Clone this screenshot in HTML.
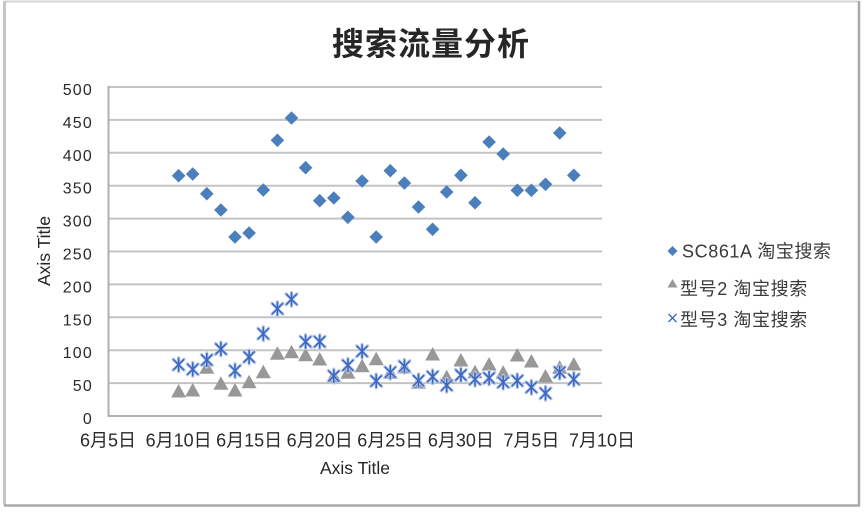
<!DOCTYPE html>
<html><head><meta charset="utf-8"><style>
html,body{margin:0;padding:0;background:#fff;}
svg{display:block;}
text{font-family:"Liberation Sans","Noto Sans CJK SC",sans-serif;}
</style></head><body>
<svg width="866" height="512" viewBox="0 0 866 512" xmlns="http://www.w3.org/2000/svg">
<rect x="0" y="0" width="866" height="512" fill="#fff"/>
<!-- outer border -->
<line x1="4" y1="1.5" x2="859" y2="1.5" stroke="#d4d4d4" stroke-width="2"/>
<line x1="4.5" y1="1" x2="4.5" y2="505" stroke="#c6c6c6" stroke-width="3"/>
<line x1="859" y1="1" x2="859" y2="506" stroke="#a8a8a8" stroke-width="2.5"/>
<line x1="4" y1="505.5" x2="860" y2="505.5" stroke="#a8a8a8" stroke-width="2.5"/>

<!-- title -->
<text x="431" y="55" text-anchor="middle" font-size="32" font-weight="bold" fill="#262626" letter-spacing="1" font-family="'Noto Sans CJK SC',sans-serif">搜索流量分析</text>

<!-- gridlines -->
<g stroke="#c3c3c3" stroke-width="2">
<line x1="108" y1="87" x2="602" y2="87"/>
<line x1="108" y1="119.9" x2="602" y2="119.9"/>
<line x1="108" y1="152.8" x2="602" y2="152.8"/>
<line x1="108" y1="185.7" x2="602" y2="185.7"/>
<line x1="108" y1="218.6" x2="602" y2="218.6"/>
<line x1="108" y1="251.5" x2="602" y2="251.5"/>
<line x1="108" y1="284.4" x2="602" y2="284.4"/>
<line x1="108" y1="317.3" x2="602" y2="317.3"/>
<line x1="108" y1="350.2" x2="602" y2="350.2"/>
<line x1="108" y1="383.1" x2="602" y2="383.1"/>
</g>
<line x1="108" y1="416" x2="602" y2="416" stroke="#b0b0b0" stroke-width="2"/>
<line x1="108.5" y1="86" x2="108.5" y2="417" stroke="#b0b0b0" stroke-width="2"/>

<!-- y tick labels -->
<g font-size="16" fill="#2a2a2a" text-anchor="end" letter-spacing="1.2">
<text x="93" y="95">500</text>
<text x="93" y="127.9">450</text>
<text x="93" y="160.8">400</text>
<text x="93" y="193.7">350</text>
<text x="93" y="226.6">300</text>
<text x="93" y="259.5">250</text>
<text x="93" y="292.4">200</text>
<text x="93" y="325.3">150</text>
<text x="93" y="358.2">100</text>
<text x="93" y="391.1">50</text>
<text x="93" y="424">0</text>
</g>

<!-- x tick labels -->
<g font-size="18" fill="#2a2a2a" text-anchor="middle">
<text x="108" y="446.5">6月5日</text>
<text x="178.6" y="446.5">6月10日</text>
<text x="249.1" y="446.5">6月15日</text>
<text x="319.7" y="446.5">6月20日</text>
<text x="390.3" y="446.5">6月25日</text>
<text x="460.9" y="446.5">6月30日</text>
<text x="531.4" y="446.5">7月5日</text>
<text x="602" y="446.5">7月10日</text>
</g>

<!-- axis titles -->
<text x="355" y="474" text-anchor="middle" font-size="17.5" fill="#262626">Axis Title</text>
<text transform="translate(50,251) rotate(-90)" text-anchor="middle" font-size="17.5" fill="#262626">Axis Title</text>

<defs>
<path id="dm" d="M0,-6.8 L6.8,0 L0,6.8 L-6.8,0 Z" fill="#4a7fbc"/>
<path id="tr" d="M0,-7 L7.5,6.5 L-7.5,6.5 Z" fill="#989898"/>
<g id="st">
<g stroke="#b8c9ea" stroke-width="3.2" stroke-linecap="round">
<line x1="-5.5" y1="-5.5" x2="5.5" y2="5.5"/><line x1="-5.5" y1="5.5" x2="5.5" y2="-5.5"/><line x1="0" y1="-7" x2="0" y2="7"/>
</g>
<g stroke="#3c68c4" stroke-width="1.6">
<line x1="-5.5" y1="-5.5" x2="5.5" y2="5.5"/><line x1="-5.5" y1="5.5" x2="5.5" y2="-5.5"/><line x1="0" y1="-7" x2="0" y2="7"/>
</g>
</g>
</defs>

<!-- SC861A diamonds -->
<g>
<use href="#dm" x="178.6" y="175.7"/>
<use href="#dm" x="192.7" y="174"/>
<use href="#dm" x="206.8" y="193.7"/>
<use href="#dm" x="220.9" y="210"/>
<use href="#dm" x="235.0" y="237"/>
<use href="#dm" x="249.1" y="233"/>
<use href="#dm" x="263.3" y="190"/>
<use href="#dm" x="277.4" y="140.3"/>
<use href="#dm" x="291.5" y="118"/>
<use href="#dm" x="305.6" y="167.7"/>
<use href="#dm" x="319.7" y="200.7"/>
<use href="#dm" x="333.8" y="198"/>
<use href="#dm" x="347.9" y="217.3"/>
<use href="#dm" x="362.1" y="181"/>
<use href="#dm" x="376.2" y="237"/>
<use href="#dm" x="390.3" y="170.7"/>
<use href="#dm" x="404.4" y="183"/>
<use href="#dm" x="418.5" y="207"/>
<use href="#dm" x="432.6" y="229.3"/>
<use href="#dm" x="446.7" y="192"/>
<use href="#dm" x="460.9" y="175.3"/>
<use href="#dm" x="475.0" y="202.7"/>
<use href="#dm" x="489.1" y="142"/>
<use href="#dm" x="503.2" y="154"/>
<use href="#dm" x="517.3" y="190.3"/>
<use href="#dm" x="531.4" y="190.3"/>
<use href="#dm" x="545.5" y="184.3"/>
<use href="#dm" x="559.7" y="133"/>
<use href="#dm" x="573.8" y="175.3"/>
</g>

<!-- 型号2 triangles -->
<g>
<use href="#tr" x="178.6" y="391"/>
<use href="#tr" x="192.7" y="390"/>
<use href="#tr" x="206.8" y="367.3"/>
<use href="#tr" x="220.9" y="383.3"/>
<use href="#tr" x="235.0" y="390"/>
<use href="#tr" x="249.1" y="381.7"/>
<use href="#tr" x="263.3" y="371.7"/>
<use href="#tr" x="277.4" y="353.3"/>
<use href="#tr" x="291.5" y="351.7"/>
<use href="#tr" x="305.6" y="354.7"/>
<use href="#tr" x="319.7" y="359"/>
<use href="#tr" x="333.8" y="375.7"/>
<use href="#tr" x="347.9" y="372.3"/>
<use href="#tr" x="362.1" y="365.7"/>
<use href="#tr" x="376.2" y="358.7"/>
<use href="#tr" x="390.3" y="372.3"/>
<use href="#tr" x="404.4" y="367"/>
<use href="#tr" x="418.5" y="382.3"/>
<use href="#tr" x="432.6" y="354"/>
<use href="#tr" x="446.7" y="376.7"/>
<use href="#tr" x="460.9" y="360"/>
<use href="#tr" x="475.0" y="371.7"/>
<use href="#tr" x="489.1" y="364"/>
<use href="#tr" x="503.2" y="372.3"/>
<use href="#tr" x="517.3" y="355"/>
<use href="#tr" x="531.4" y="361"/>
<use href="#tr" x="545.5" y="376"/>
<use href="#tr" x="559.7" y="367.3"/>
<use href="#tr" x="573.8" y="364"/>
</g>

<!-- 型号3 stars -->
<g>
<use href="#st" x="178.6" y="364.7"/>
<use href="#st" x="192.7" y="369.3"/>
<use href="#st" x="206.8" y="360"/>
<use href="#st" x="220.9" y="349"/>
<use href="#st" x="235.0" y="370.7"/>
<use href="#st" x="249.1" y="357"/>
<use href="#st" x="263.3" y="333.7"/>
<use href="#st" x="277.4" y="308.7"/>
<use href="#st" x="291.5" y="299.3"/>
<use href="#st" x="305.6" y="341.7"/>
<use href="#st" x="319.7" y="341.7"/>
<use href="#st" x="333.8" y="376"/>
<use href="#st" x="347.9" y="365.3"/>
<use href="#st" x="362.1" y="351.3"/>
<use href="#st" x="376.2" y="381"/>
<use href="#st" x="390.3" y="372.3"/>
<use href="#st" x="404.4" y="366.3"/>
<use href="#st" x="418.5" y="380.7"/>
<use href="#st" x="432.6" y="376.7"/>
<use href="#st" x="446.7" y="385.3"/>
<use href="#st" x="460.9" y="375"/>
<use href="#st" x="475.0" y="379.3"/>
<use href="#st" x="489.1" y="378"/>
<use href="#st" x="503.2" y="382.3"/>
<use href="#st" x="517.3" y="380.7"/>
<use href="#st" x="531.4" y="387.3"/>
<use href="#st" x="545.5" y="393.3"/>
<use href="#st" x="559.7" y="372.3"/>
<use href="#st" x="573.8" y="379.3"/>
</g>

<!-- legend -->
<path d="M672.5,246 L677.5,251 L672.5,256 L667.5,251 Z" fill="#4a7fbc"/>
<text x="682" y="257.5" font-size="18" fill="#3a3a3a" letter-spacing="0.6">SC861A 淘宝搜索</text>
<path d="M672.5,279 L677.5,287.5 L667.5,287.5 Z" fill="#989898"/>
<text x="680" y="295" font-size="18" fill="#3a3a3a" letter-spacing="0.6">型号2 淘宝搜索</text>
<g stroke="#3c68c4" stroke-width="1.3">
<line x1="668.5" y1="314" x2="676.5" y2="322"/><line x1="668.5" y1="322" x2="676.5" y2="314"/>
</g>
<text x="680" y="326" font-size="18" fill="#3a3a3a" letter-spacing="0.6">型号3 淘宝搜索</text>
</svg>
</body></html>
